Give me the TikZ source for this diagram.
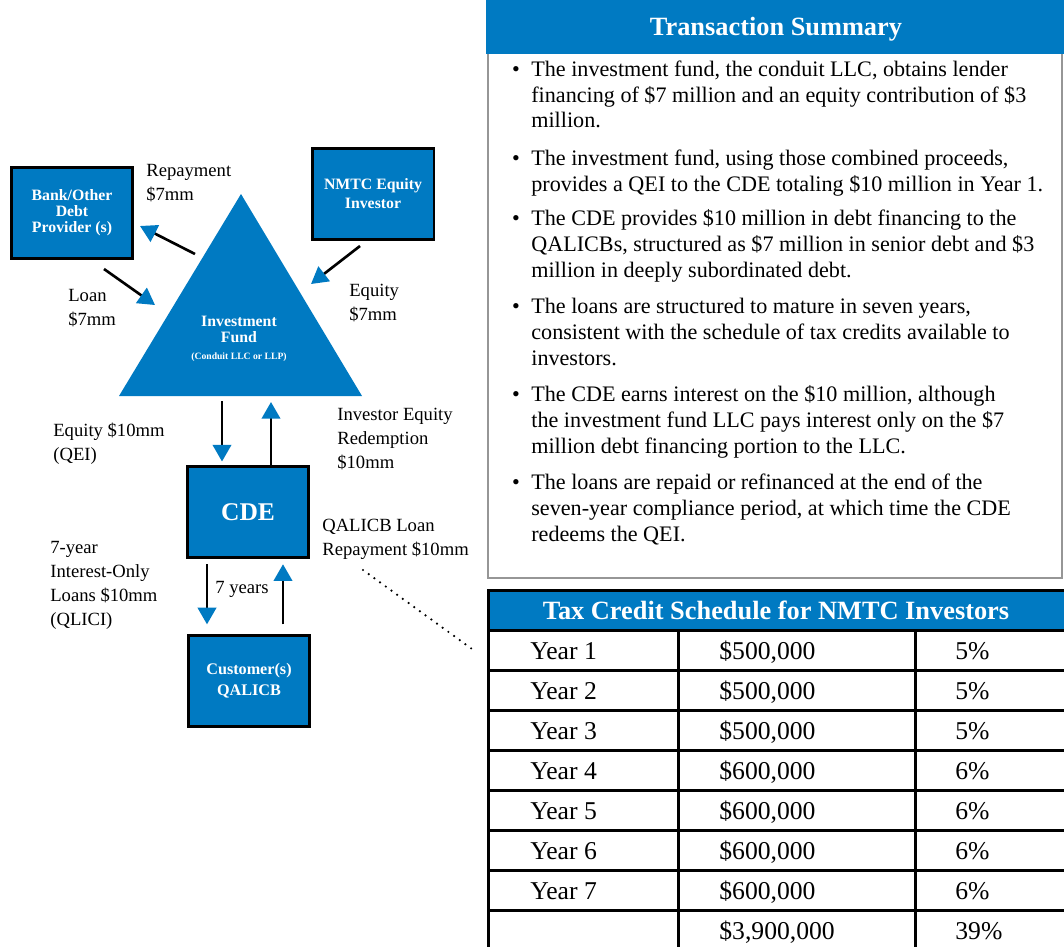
\documentclass[tikz,border=0pt]{standalone}
\usepackage{fontspec}
\setmainfont{Liberation Serif}
\usetikzlibrary{arrows.meta}
\definecolor{nmtcblue}{RGB}{0,122,194}
\definecolor{panelgray}{RGB}{150,150,150}
\tikzset{
  party/.style={draw=black, line width=1.7pt, fill=nmtcblue, text=white,
    align=center, inner sep=0pt, minimum width=2.44cm, minimum height=1.82cm},
  flow/.style={line width=1.5pt, -{Triangle[length=9.5pt,width=10.5pt,color=nmtcblue]}},
  lbl/.style={anchor=base west, align=left, inner sep=0pt,
    font=\fontsize{10.6}{13.6}\selectfont},
  item/.style={anchor=base west, align=left, inner sep=0pt,
    font=\fontsize{12.6}{14.7}\selectfont},
  cell/.style={anchor=base west, inner sep=0pt, font=\fontsize{14.6}{16}\selectfont},
  grid/.style={line width=1.7pt, black},
  heading/.style={text=white, font=\fontsize{15}{17}\selectfont\bfseries}
}
\begin{document}
\begin{tikzpicture}[x=0.02cm, y=-0.02cm]
  \useasboundingbox (0,0) rectangle (1064,946);

  % parties
  \node[party, font=\fontsize{9}{9.2}\selectfont\bfseries] (bank) at (72,213)
    {Bank/Other\\Debt\\Provider (s)};
  \node[party, font=\fontsize{9}{10.8}\selectfont\bfseries] (equity) at (373,194)
    {NMTC Equity\\Investor};
  \node[party, font=\fontsize{14.5}{16}\selectfont\bfseries] (cde) at (248,512) {CDE};
  \node[party, font=\fontsize{9.2}{12}\selectfont\bfseries] (cust) at (249,681)
    {Customer(s)\\QALICB};

  % investment fund
  \coordinate (fundTop) at (241,194);
  \coordinate (fundL) at (119,396);
  \coordinate (fundR) at (362,396);
  \fill[nmtcblue] (fundTop) -- (fundL) -- (fundR) -- cycle;
  \node[text=white, align=center, font=\fontsize{9}{9}\selectfont\bfseries] (fund)
    at (239,339) {Investment\\Fund\\[1pt]{\fontsize{5.5}{6}\selectfont (Conduit LLC or LLP)}};

  % flows
  \coordinate (repA) at (195,254);
  \coordinate (repB) at (140,226);
  \coordinate (loanA) at (104,269);
  \coordinate (loanB) at (155,305);
  \coordinate (eqA) at (360,246);
  \coordinate (eqB) at (311,284);
  \coordinate (qeiX) at (222,401);
  \coordinate (redX) at (271,402);
  \coordinate (qliciX) at (207,0);
  \coordinate (payX) at (283,0);
  \draw[flow] (repA) -- (repB);
  \draw[flow] (loanA) -- (loanB);
  \draw[flow] (eqA) -- (eqB);
  \draw[flow, shorten >=2pt] (qeiX) -- (qeiX |- cde.north);
  \draw[flow] (redX |- cde.north) -- (redX);
  \draw[flow, shorten <=3pt, shorten >=5.5pt] (cde.south -| qliciX) -- (cust.north -| qliciX);
  \draw[flow, shorten <=5.5pt, shorten >=3pt] (cust.north -| payX) -- (cde.south -| payX);

  % flow labels (placed by the baseline of their last line)
  \node[lbl] (repL) at (146,200) {Repayment\\\$7mm};
  \node[lbl] (loanL) at (68,325) {Loan\\\$7mm};
  \node[lbl] (eqL) at (349,320) {Equity\\\$7mm};
  \node[lbl] (qeiL) at (53,460) {Equity \$10mm\\(QEI)};
  \node[lbl] (redL) at (337,468) {Investor Equity\\Redemption\\\$10mm};
  \node[lbl] (payL) at (322,555) {QALICB Loan\\Repayment \$10mm};
  \node[lbl] (qliciL) at (50,625) {7-year\\Interest-Only\\Loans \$10mm\\(QLICI)};
  \node[lbl] (yrsL) at (215,593) {7 years};
  \draw[line width=1.4pt, dash pattern=on 0pt off 4pt, line cap=round] (363,570) -- (472,649);

  % transaction summary
  \fill[nmtcblue] (486,0) rectangle (1064,54);
  \node[heading] (sumT) at (776,29) {Transaction Summary};
  \draw[panelgray, line width=1.6pt] (488,54) -- (488,578) -- (1062,578) -- (1062,54);
  \foreach \yb in {76,165,225,313,401,489}
    \node[item, anchor=base] (dot\yb) at (516,\yb) {\textbullet};
  \node[item] (b1) at (531,128) {The investment fund, the conduit LLC, obtains lender\\financing of \$7 million and an equity contribution of \$3\\million.};
  \node[item] (b2) at (531,191) {The investment fund, using those combined proceeds,\\provides a QEI to the CDE totaling \$10 million in Year 1.};
  \node[item] (b3) at (531,277) {The CDE provides \$10 million in debt financing to the\\QALICBs, structured as \$7 million in senior debt and \$3\\million in deeply subordinated debt.};
  \node[item] (b4) at (531,365) {The loans are structured to mature in seven years,\\consistent with the schedule of tax credits available to\\investors.};
  \node[item] (b5) at (531,453) {The CDE earns interest on the \$10 million, although\\the investment fund LLC pays interest only on the \$7\\million debt financing portion to the LLC.};
  \node[item] (b6) at (531,541) {The loans are repaid or refinanced at the end of the\\seven-year compliance period, at which time the CDE\\redeems the QEI.};

  % tax credit schedule
  \fill[nmtcblue] (488,590) rectangle (1066,630);
  \node[heading] (tabT) at (776,610) {Tax Credit Schedule for NMTC Investors};
  \draw[grid] (488,950) -- (488,590) -- (1066,590);
  \draw[grid] (678,630) -- (678,950);
  \draw[grid] (915,630) -- (915,950);
  \foreach \i in {0,...,7}
    \draw[grid] (488,630+40*\i) -- (1066,630+40*\i);
  \foreach \yr/\amt/\pct [count=\i] in {{Year 1}/{\$500,000}/{5\%},{Year 2}/{\$500,000}/{5\%},
      {Year 3}/{\$500,000}/{5\%},{Year 4}/{\$600,000}/{6\%},{Year 5}/{\$600,000}/{6\%},
      {Year 6}/{\$600,000}/{6\%},{Year 7}/{\$600,000}/{6\%},{}/{\$3,900,000}/{39\%}} {
    \node[cell] (yr\i) at (530,619+40*\i) {\yr};
    \node[cell] (amt\i) at (719,619+40*\i) {\amt};
    \node[cell] (pct\i) at (955,619+40*\i) {\pct};
  }
\end{tikzpicture}
\end{document}
